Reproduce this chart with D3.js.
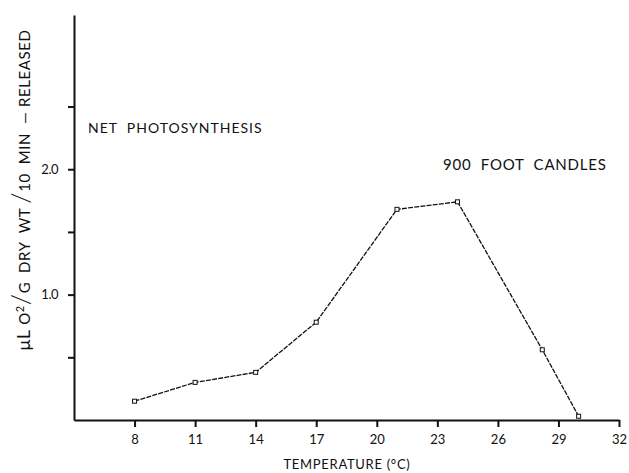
<!DOCTYPE html>
<html>
<head>
<meta charset="utf-8">
<script src="https://cdn.jsdelivr.net/npm/d3@7"></script>
<style>
  html, body { margin: 0; padding: 0; background: #fff; }
  svg { display: block; }
  text { font-family: "Lato", "DejaVu Sans", sans-serif; fill: #111; white-space: pre; }
</style>
</head>
<body>
<svg id="chart" width="629" height="473"></svg>
<script>
// Net photosynthesis at 900 foot candles, by water temperature
const temperatures = [8, 11, 14, 17, 21, 24, 28.2, 30];
const o2Released   = [0.15, 0.30, 0.38, 0.78, 1.68, 1.74, 0.56, 0.03];

const xTickValues = [8, 11, 14, 17, 20, 23, 26, 29, 32];
const yTickValues = [0.5, 1.0, 1.5, 2.0, 2.5];
const yTickLabels = ["", "1.0", "", "2.0", ""];

const svg = d3.select("#chart");

const x = d3.scaleLinear().domain([5, 32]).range([74, 619]);
const y = d3.scaleLinear().domain([0, 3.23]).range([420, 15]);

// x axis
const gx = svg.append("g")
  .attr("transform", `translate(0,${y(0)})`)
  .call(d3.axisBottom(x)
    .tickValues(xTickValues)
    .tickSize(7)
    .tickSizeOuter(0)
    .tickPadding(8)
    .tickFormat(d3.format("d")));

// y axis
const gy = svg.append("g")
  .attr("transform", `translate(${x(5)},0)`)
  .call(d3.axisLeft(y)
    .tickValues(yTickValues)
    .tickSize(6)
    .tickSizeOuter(0)
    .tickPadding(10)
    .tickFormat((d, i) => yTickLabels[i]));

[gx, gy].forEach(g => {
  g.select(".domain").attr("stroke", "#111").attr("stroke-width", 2);
  g.selectAll(".tick line").attr("stroke", "#111").attr("stroke-width", 2);
  g.selectAll(".tick text")
    .style("font-family", "Lato, 'DejaVu Sans', sans-serif")
    .style("font-size", "13px")
    .attr("fill", "#111");
});
gy.selectAll(".tick text").style("letter-spacing", "-0.5px");

// data line
const pts = temperatures.map((t, i) => [t, o2Released[i]]);
svg.append("path")
  .datum(pts)
  .attr("fill", "none")
  .attr("stroke", "#111")
  .attr("stroke-width", 1.3)
  .attr("stroke-dasharray", "5,1.2")
  .attr("d", d3.line().x(d => x(d[0])).y(d => y(d[1])));

// open square markers
svg.selectAll("rect.pt")
  .data(pts)
  .join("rect")
  .attr("class", "pt")
  .attr("x", d => x(d[0]) - 2)
  .attr("y", d => y(d[1]) - 2)
  .attr("width", 4)
  .attr("height", 4)
  .attr("fill", "#fff")
  .attr("stroke", "#111")
  .attr("stroke-width", 1);

// annotations
svg.append("text")
  .attr("x", 88).attr("y", 133)
  .style("font-size", "14px")
  .style("letter-spacing", "1px")
  .text("NET  PHOTOSYNTHESIS");

svg.append("text")
  .attr("x", 443).attr("y", 170)
  .style("font-size", "15px")
  .style("letter-spacing", "0.8px")
  .text("900  FOOT  CANDLES");

// x axis title
svg.append("text")
  .attr("x", 347).attr("y", 469)
  .attr("text-anchor", "middle")
  .style("font-size", "13px")
  .style("letter-spacing", "0.7px")
  .text("TEMPERATURE (°C)");

// y axis title
const yt = svg.append("text")
  .attr("transform", "translate(30,190) rotate(-90)")
  .attr("text-anchor", "middle")
  .style("font-size", "15px")
  .style("letter-spacing", "0.6px");
yt.append("tspan").style("font-size", "18px").text("μL");
yt.append("tspan").text(" O");
yt.append("tspan").attr("dy", -6).style("font-size", "11px").text("2");
yt.append("tspan").attr("dy", 6).style("font-size", "26px").style("font-weight", "300").text("/");
yt.append("tspan").text("G  DRY  WT ");
yt.append("tspan").style("font-size", "26px").style("font-weight", "300").text("/");
yt.append("tspan").text("10  MIN  — RELEASED");
</script>
</body>
</html>
